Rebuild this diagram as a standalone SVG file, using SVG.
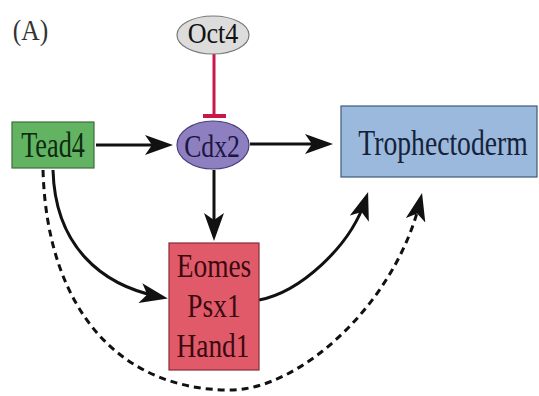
<svg xmlns="http://www.w3.org/2000/svg" width="539" height="396" viewBox="0 0 539 396">
<style>
.lbl{font-family:"Liberation Serif","Times New Roman",serif;text-anchor:middle}
.con{fill:none;stroke:#111;stroke-width:3}
.dash{stroke-dasharray:7 5}
</style>
<defs>
<marker id="ah" viewBox="0 0 28 20" refX="20" refY="10" markerWidth="28" markerHeight="20" markerUnits="userSpaceOnUse" orient="auto">
<path d="M28,10 L0,0 L7,10 L0,20 Z" fill="#111"/>
</marker>
</defs>
<rect width="539" height="396" fill="#fff"/>
<text class="lbl" transform="translate(30.5,40) scale(0.85,1)" font-size="30" fill="#333">(A)</text>

<g id="connectors">
<path d="M214,54 V116" fill="none" stroke="#c8184a" stroke-width="3"/>
<path d="M203,116 H226" stroke="#c8184a" stroke-width="4"/>
<path class="con" d="M96,145 H165" marker-end="url(#ah)"/>
<path class="con" d="M250,144 H325" marker-end="url(#ah)"/>
<path class="con" d="M214,170 V233" marker-end="url(#ah)"/>
<path class="con" d="M53,170 C55,245 100,285 160,297" marker-end="url(#ah)"/>
<path class="con" d="M259,300 C300,292 350,247 365.6,199.6" marker-end="url(#ah)"/>
<path class="con dash" d="M43,170 C47,310 120,390 230,390 C300,390 396,303 420.2,200.8" marker-end="url(#ah)"/>
</g>

<g id="oct4">
<ellipse cx="213" cy="35" rx="36" ry="19" fill="#dcdcdc" stroke="#777" stroke-width="1.2"/>
<text class="lbl" transform="translate(213,43) scale(0.9,1)" font-size="29" fill="#111">Oct4</text>
</g>

<g id="cdx2">
<ellipse cx="213" cy="145" rx="36" ry="24" fill="#8d7fc0" stroke="#4a3f7a" stroke-width="1.2"/>
<text class="lbl" transform="translate(212,157) scale(0.83,1)" font-size="31" fill="#1c1640">Cdx2</text>
</g>

<g id="tead4">
<rect x="12" y="122" width="82" height="46" fill="#62b463" stroke="#3e6e3e" stroke-width="1.2"/>
<text class="lbl" transform="translate(53,157) scale(0.75,1)" font-size="35" fill="#0f2a10">Tead4</text>
</g>

<g id="trophectoderm">
<rect x="341" y="106" width="196" height="71" fill="#9ab9dc" stroke="#3d5a7a" stroke-width="1.2"/>
<text class="lbl" transform="translate(443,155) scale(0.79,1)" font-size="35" fill="#16213a">Trophectoderm</text>
</g>

<g id="eomes">
<rect x="169" y="243" width="90" height="127" fill="#e05a6a" stroke="#8a2a35" stroke-width="1.2"/>
<text class="lbl" transform="translate(214,277) scale(0.83,1)" font-size="33" fill="#3a0a10">Eomes</text>
<text class="lbl" transform="translate(214,317) scale(0.83,1)" font-size="33" fill="#3a0a10">Psx1</text>
<text class="lbl" transform="translate(213,357) scale(0.83,1)" font-size="33" fill="#3a0a10">Hand1</text>
</g>
</svg>
